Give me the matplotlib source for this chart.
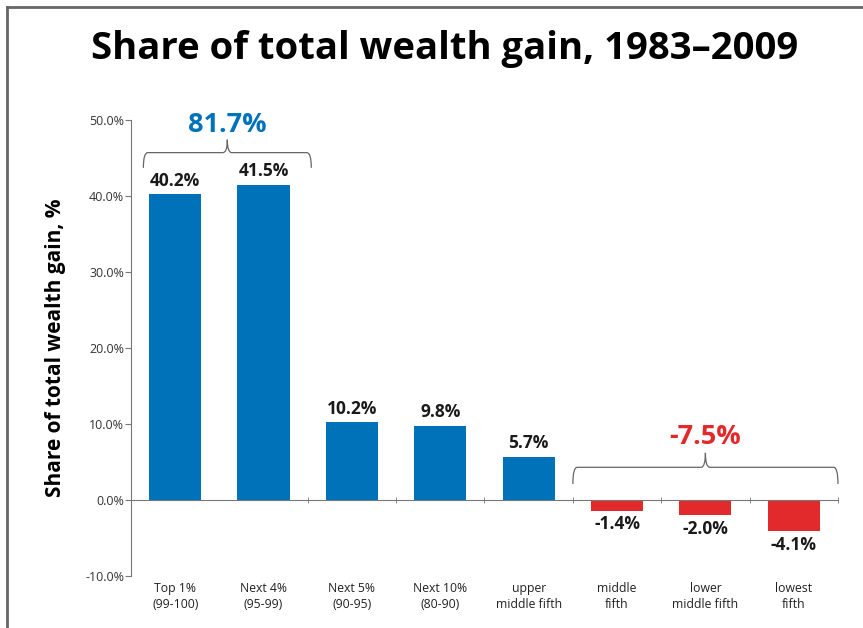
import matplotlib
matplotlib.use('Agg')
import matplotlib.pyplot as plt
from matplotlib.path import Path
from matplotlib.patches import PathPatch
import numpy as np

# data
groups = ['Top 1%\n(99-100)', 'Next 4%\n(95-99)', 'Next 5%\n(90-95)', 'Next 10%\n(80-90)',
          'upper\nmiddle fifth', 'middle\nfifth', 'lower\nmiddle fifth', 'lowest\nfifth']
share = [40.2, 41.5, 10.2, 9.8, 5.7, -1.4, -2.0, -4.1]
top_total = '81.7%'
bottom_total = '-7.5%'
yticks = [-10, 0, 10, 20, 30, 40, 50]

blue = '#0072BA'
red = '#E2292B'
font = 'Open Sans'

fig = plt.figure(figsize=(8.63, 6.28), dpi=100)
ax = fig.add_axes([0.1518, 0.0828, 0.8192, 0.7262])

x = np.arange(len(share))
colors = [blue if v >= 0 else red for v in share]
ax.bar(x, share, width=0.59, color=colors, zorder=2)

ax.set_xlim(-0.5, 7.5)
ax.set_ylim(-10, 50)

for s in ['top', 'right']:
    ax.spines[s].set_visible(False)
ax.spines['left'].set_color('#777777')
ax.spines['bottom'].set_color('#777777')
ax.spines['bottom'].set_position(('data', 0))
ax.spines['left'].set_zorder(3)

ax.set_yticks(yticks)
ax.set_yticklabels(['%.1f%%' % t for t in yticks], fontsize=9, family=font, color='#333333')
ax.tick_params(axis='y', length=4, color='#777777', pad=1)

ax.set_xticks(x)
ax.set_xticklabels([])
ax.tick_params(axis='x', which='major', length=0)
ax.set_xticks(x[1:] + 0.5, minor=True)
ax.tick_params(axis='x', which='minor', length=5, color='#777777', direction='inout')

for i, lab in enumerate(groups):
    ax.text(i, -10.8, lab, ha='center', va='top', fontsize=8.8, family=font,
            color='#222222', linespacing=1.25)

for i, v in enumerate(share):
    if v >= 0:
        ax.text(i, v + 0.6, '%.1f%%' % v, ha='center', va='bottom', fontsize=12.5,
                fontweight='bold', family=font, color='#1a1a1a')
    else:
        ax.text(i, v - 0.6, '%.1f%%' % v, ha='center', va='top', fontsize=12.5,
                fontweight='bold', family=font, color='#1a1a1a')


def brace(ax, x0, x1, xm, y_end, y_bar, y_tip):
    r = 0.05
    verts = [(x0, y_end), (x0, y_bar), (x0 + r, y_bar),
             (xm - r, y_bar), (xm, y_bar), (xm, y_tip),
             (xm, y_bar), (xm + r, y_bar),
             (x1 - r, y_bar), (x1, y_bar), (x1, y_end)]
    codes = [Path.MOVETO, Path.CURVE3, Path.CURVE3,
             Path.LINETO, Path.CURVE3, Path.CURVE3,
             Path.CURVE3, Path.CURVE3,
             Path.LINETO, Path.CURVE3, Path.CURVE3]
    ax.add_patch(PathPatch(Path(verts, codes), fill=False, edgecolor='#666666',
                           lw=0.9, clip_on=False))


brace(ax, -0.36, 1.54, 0.59, 43.7, 45.7, 47.4)
brace(ax, 4.5, 7.5, 6.0, 2.1, 4.3, 6.2)

ax.text(0.59, 47.6, top_total, ha='center', va='bottom', fontsize=19.5,
        fontweight='bold', family=font, color=blue)
ax.text(6.0, 6.6, bottom_total, ha='center', va='bottom', fontsize=19.5,
        fontweight='bold', family=font, color=red)

ax.set_ylabel('Share of total wealth gain, %', fontsize=15, fontweight='bold',
              family=font, labelpad=14)

fig.suptitle('Share of total wealth gain, 1983\u20132009', x=0.515, y=0.922, va='center',
             fontsize=27.5, fontweight='bold', family=font)

# frame lines
fig.add_artist(plt.Line2D([0.008, 0.008], [0, 0.989], color='#666666', lw=2,
                          transform=fig.transFigure))
fig.add_artist(plt.Line2D([0.008, 1.0], [0.989, 0.989], color='#666666', lw=2,
                          transform=fig.transFigure))

fig.savefig('out.png', dpi=100)
